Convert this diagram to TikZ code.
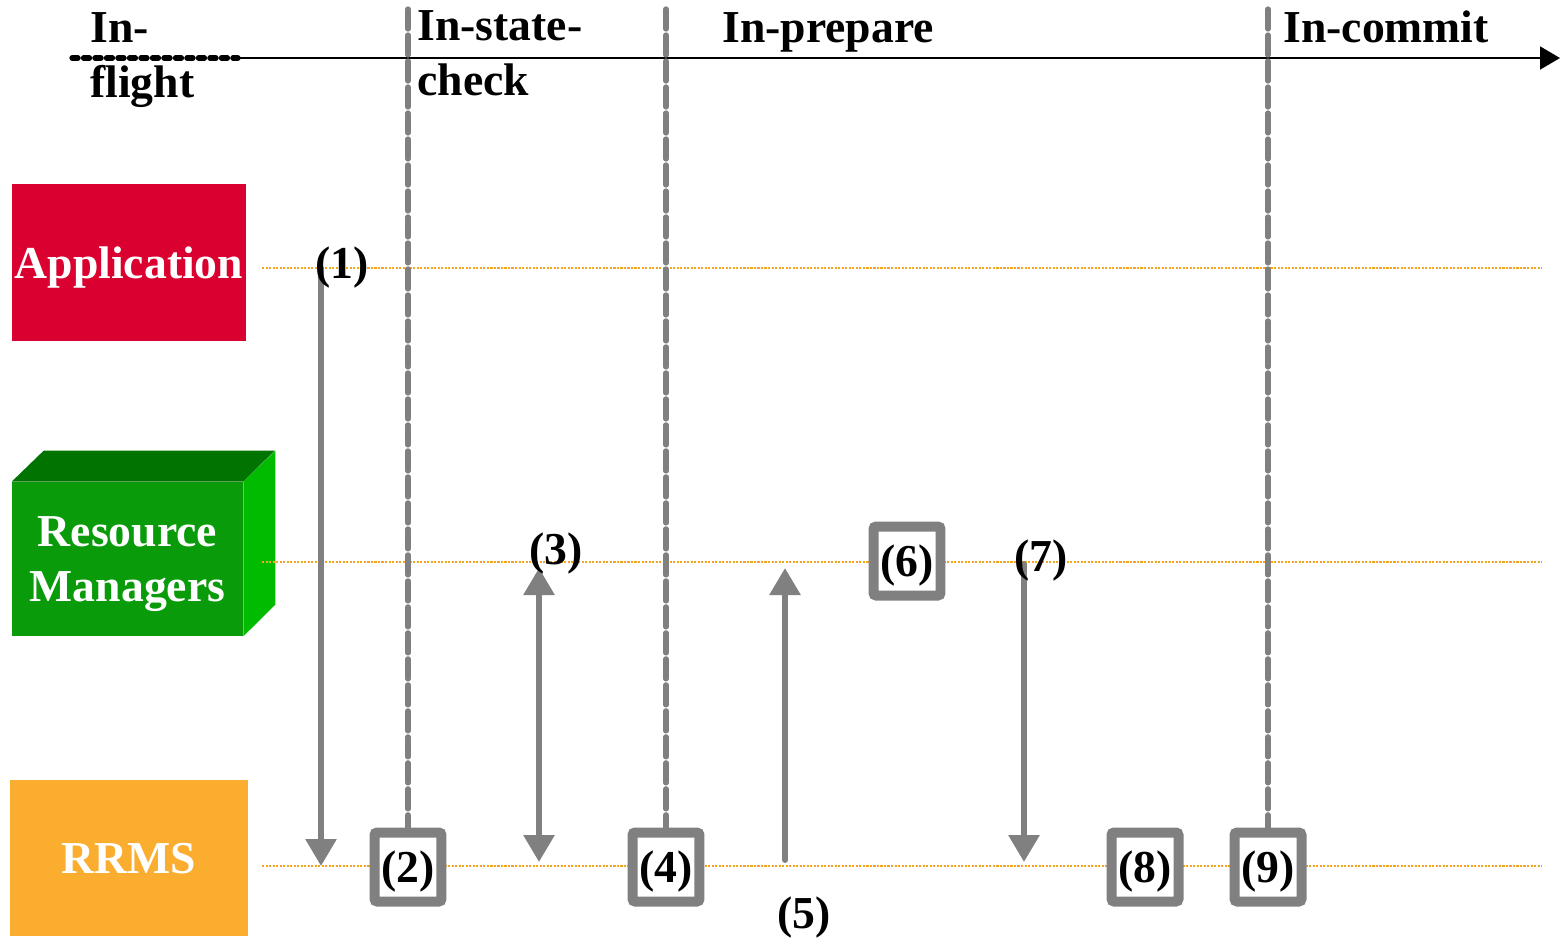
\documentclass[tikz,border=0pt]{standalone}
\usepackage{fontspec}
\setmainfont{Liberation Serif}
\usetikzlibrary{arrows.meta,positioning}
\definecolor{appred}{RGB}{218,0,48}
\definecolor{rrorange}{RGB}{251,173,47}
\definecolor{rmfront}{RGB}{10,155,10}
\definecolor{rmtop}{RGB}{0,115,0}
\definecolor{rmside}{RGB}{0,187,0}
\definecolor{lanecol}{RGB}{245,165,30}
\definecolor{stepgray}{RGB}{128,128,128}

\begin{document}
\begin{tikzpicture}[x=0.02cm,y=-0.02cm,
  >={Triangle[width=0.6cm,length=0.54cm]},
  txt/.style={font=\fontsize{26}{31}\selectfont\bfseries,inner sep=0pt,text depth=0pt},
  actor/.style={txt,text=white,minimum height=3.14cm},
  stepbox/.style={txt,draw=stepgray,line width=0.2cm,fill=white,rounded corners=1.5pt,
    minimum width=1.34cm,minimum height=1.38cm},
  phase/.style={draw=stepgray,line width=3pt,line cap=round,dash pattern=on 0.4cm off 0.12cm},
  lane/.style={draw=lanecol,line width=1.2pt,dash pattern=on 1.2pt off 0.8pt},
  msg/.style={draw=stepgray,fill=stepgray,line width=3.4pt,line cap=round}]
  \useasboundingbox (0,0) rectangle (1560,938);

  % time axis
  \coordinate (t0) at (72,58);
  \coordinate (t1) at (238,58);
  \coordinate (t2) at (1560,58);
  \draw[line width=3pt,line cap=round,dash pattern=on 0.12cm off 0.11cm] (t0) -- (t1);
  \draw[line width=1.1pt,-{Triangle[width=0.46cm,length=0.4cm]}] (t1) -- (t2);
  \node[txt,align=left,anchor=base west] (ph1) at (90,97) {In-\\flight};
  \node[txt,align=left,anchor=base west] (ph2) at (417,95) {In-state-\\check};
  \node[txt,anchor=base west] (ph3) at (722,42) {In-prepare};
  \node[txt,anchor=base west] (ph4) at (1283,42) {In-commit};

  % actors
  \node[actor,fill=appred,minimum width=4.68cm] (app) at (129,262.5) {Application};
  \node[actor,fill=rmfront,minimum width=4.62cm,minimum height=3.08cm,align=center] (rm) at (127.5,559) {Resource\\Managers};
  \fill[rmtop] (rm.north west) -- ++(32,-31) -- ++(231,0) -- (rm.north east) -- cycle;
  \fill[rmside] (rm.north east) -- ++(32,-31) -- ++(0,154) -- (rm.south east) -- cycle;
  \node[actor,fill=rrorange,minimum width=4.76cm] (rrms) at (129,858) {RRMS};

  % lanes
  \coordinate (la0) at (262,268);  \coordinate (la1) at (1542,268);
  \coordinate (lr0) at (262,562);  \coordinate (lr1) at (1542,562);
  \coordinate (lq0) at (262,866);  \coordinate (lq1) at (1542,866);
  \draw[lane] (la0) -- (la1);
  \draw[lane] (lr0) -- (lr1);
  \draw[lane] (lq0) -- (lq1);

  % steps
  \node[stepbox] (s2) at (408,867) {(2)};
  \node[stepbox] (s4) at (666,867) {(4)};
  \node[stepbox] (s6) at (907,561) {(6)};
  \node[stepbox] (s8) at (1145,867) {(8)};
  \node[stepbox] (s9) at (1268,867) {(9)};
  \coordinate (p1) at (408,9);
  \coordinate (p2) at (666,9);
  \coordinate (p3) at (1268,9);
  \draw[phase] (p1) -- (s2.north);
  \draw[phase] (p2) -- (s4.north);
  \draw[phase] (p3) -- (s9.north);

  % messages
  \coordinate (m1a) at (321,268);  \coordinate (m1b) at (321,866);
  \coordinate (m3a) at (539,862);  \coordinate (m3b) at (539,568);
  \coordinate (m5a) at (785,860);  \coordinate (m5b) at (785,568);
  \coordinate (m7a) at (1024,564); \coordinate (m7b) at (1024,862);
  \draw[msg,->] (m1a) -- (m1b);
  \draw[msg,<->] (m3a) -- (m3b);
  \draw[msg,->] (m5a) -- (m5b);
  \draw[msg,->] (m7a) -- (m7b);
  \node[txt] (n1) at (342,263) {(1)};
  \node[txt] (n3) at (556,549) {(3)};
  \node[txt] (n5) at (804,913) {(5)};
  \node[txt] (n7) at (1041,556) {(7)};
\end{tikzpicture}
\end{document}
